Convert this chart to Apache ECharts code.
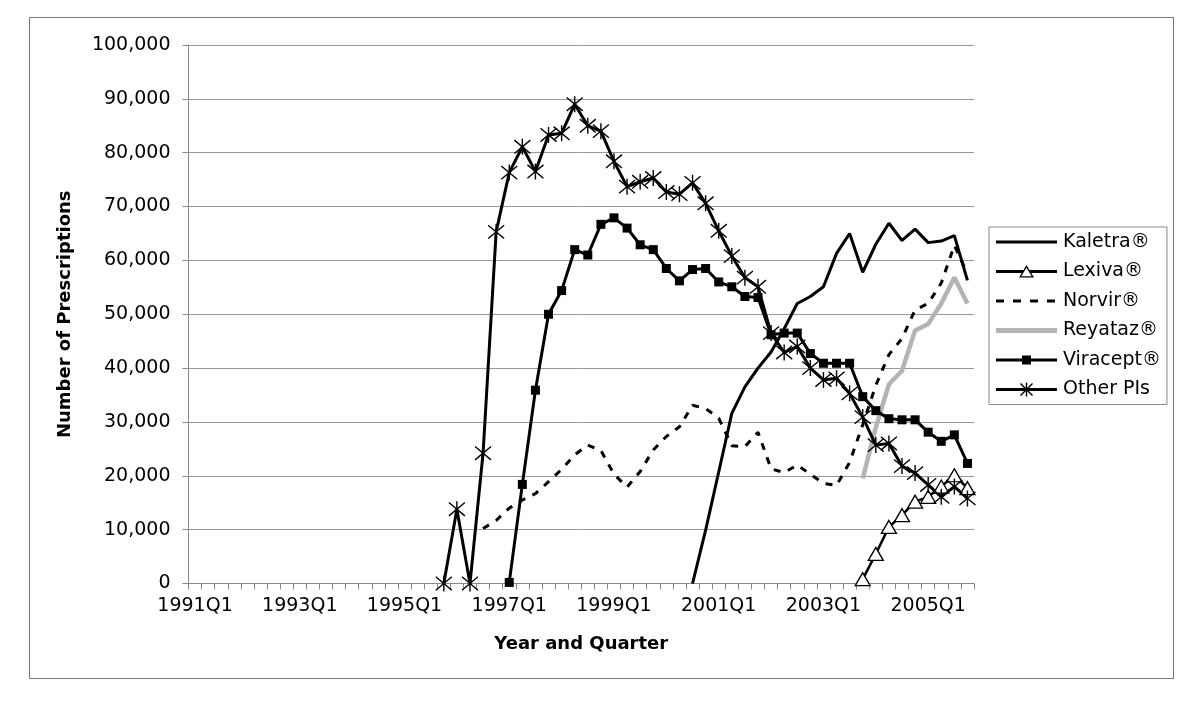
<!DOCTYPE html>
<html>
<head>
<meta charset="utf-8">
<script src="https://cdn.jsdelivr.net/npm/echarts@6/dist/echarts.min.js"></script>
<style>
  html, body { margin: 0; padding: 0; background: #fff; }
  #chart { width: 1200px; height: 702px; }
</style>
</head>
<body>
<div id="chart"></div>
<script>
// ---- Data ----
const quarters = [
  '1991Q1','1991Q2','1991Q3','1991Q4','1992Q1','1992Q2','1992Q3','1992Q4',
  '1993Q1','1993Q2','1993Q3','1993Q4','1994Q1','1994Q2','1994Q3','1994Q4',
  '1995Q1','1995Q2','1995Q3','1995Q4','1996Q1','1996Q2','1996Q3','1996Q4',
  '1997Q1','1997Q2','1997Q3','1997Q4','1998Q1','1998Q2','1998Q3','1998Q4',
  '1999Q1','1999Q2','1999Q3','1999Q4','2000Q1','2000Q2','2000Q3','2000Q4',
  '2001Q1','2001Q2','2001Q3','2001Q4','2002Q1','2002Q2','2002Q3','2002Q4',
  '2003Q1','2003Q2','2003Q3','2003Q4','2004Q1','2004Q2','2004Q3','2004Q4',
  '2005Q1','2005Q2','2005Q3','2005Q4'
];

// values in prescriptions; each series starts at the named quarter
const kaletraStart = '2000Q3';
const kaletra = [0, 9900, 20700, 31600, 36500, 40000, 43000, 47300, 52000, 53300, 55100,
  61300, 65000, 57800, 63000, 66900, 63700, 65800, 63300, 63600, 64600, 56300];

const lexivaStart = '2003Q4';
const lexiva = [800, 5500, 10500, 12700, 15200, 16100, 18000, 20100, 17700];

const norvirStart = '1996Q3';
const norvir = [10200, 11700, 14000, 15500, 16700, 18900, 21200, 23900, 25700, 24700,
  20300, 17900, 20800, 24800, 27300, 29100, 33100, 32500, 30700, 25600, 25400, 28100,
  21300, 20600, 22000, 20300, 18600, 18200, 22500, 29500, 36800, 42500, 45500, 50800,
  52000, 55800, 62800, 57500];

const reyatazStart = '2003Q4';
const reyataz = [19500, 29000, 37000, 39500, 47000, 48200, 52000, 56800, 52000];

const viraceptStart = '1997Q1';
const viracept = [200, 18400, 35900, 50000, 54400, 62000, 61000, 66700, 67900, 66000,
  62900, 62000, 58500, 56200, 58300, 58500, 56000, 55100, 53300, 53100, 46200, 46500,
  46500, 42700, 40900, 40900, 40900, 34700, 32100, 30600, 30400, 30400, 28100, 26400,
  27600, 22300];

const otherStart = '1995Q4';
const otherPIs = [0, 13800, 0, 24200, 65300, 76300, 81100, 76500, 83300, 83600, 89000,
  85000, 84000, 78400, 73700, 74600, 75300, 72700, 72300, 74400, 70600, 65500, 60800,
  56800, 55100, 46500, 42900, 44000, 40000, 37800, 38100, 35300, 30900, 25700, 26000,
  21800, 20500, 18300, 16100, 18000, 15800];

const yTicks = { min: 0, max: 100000, interval: 10000 };

// place a series on the quarter axis starting at its first quarter
function place(start, vals) {
  const out = new Array(quarters.length).fill(null);
  const s = quarters.indexOf(start);
  vals.forEach((v, k) => { out[s + k] = v; });
  return out;
}

const FONT = 'DejaVu Sans';
const chart = echarts.init(document.getElementById('chart'), null, { renderer: 'canvas' });

const asterisk = 'path://M0,0L10,10M10,0L0,10M5,-1L5,11';
// legend icons (61 x 14 box): invisible slivers fix the bounding box
const box = 'M0,0h0.01v14h-0.01z M60.99,0h0.01v14h-0.01z ';
const iconSolid = 'path://' + box + 'M0,5.5h61v3h-61z';
const iconDash = 'path://' + box + 'M0,5.5h8v3h-8z M17,5.5h8v3h-8z M34,5.5h8v3h-8z M51,5.5h8v3h-8z';
const iconGray = 'path://' + box + 'M0,4.5h61v5h-61z';
const iconTri = 'path://' + box + 'M0,5.5h27.5v3h-27.5z M33.5,5.5h27.5v3h-27.5z ' +
  'M30.5,0.5L38,13L23,13Z M30.5,3.2L25.3,11.8L35.7,11.8Z';
const iconSq = 'path://' + box + 'M0,5.5h61v3h-61z M26,2.5h9v9h-9z';
const iconAst = 'path://' + box + 'M0,5.5h61v3h-61z M29.8,0h1.4v14h-1.4z ' +
  'M25,0.5L37,12.5L36,13.5L24,1.5Z M36,0.5L37,1.5L25,13.5L24,12.5Z';
const blackIcon = { color: '#000', borderWidth: 0 };

chart.setOption({
  backgroundColor: '#fff',
  animation: false,
  textStyle: { fontFamily: FONT, color: '#000' },
  graphic: [{
    type: 'rect',
    shape: { x: 29.5, y: 17.5, width: 1144, height: 661 },
    style: { fill: 'none', stroke: '#777', lineWidth: 1 },
    silent: true, z: -10
  }],
  grid: { left: 188.5, right: 226, top: 45, bottom: 118.5, containLabel: false },
  legend: {
    orient: 'vertical',
    left: 989, top: 227,
    padding: [5, 6, 5, 7],
    borderColor: '#888', borderWidth: 1,
    itemWidth: 61, itemHeight: 14, itemGap: 9.5,
    textStyle: { fontFamily: FONT, fontSize: 19, color: '#000', lineHeight: 20, padding: [0, 0, 0, 1] },
    data: [
      { name: 'Kaletra®', icon: iconSolid, itemStyle: blackIcon },
      { name: 'Lexiva®', icon: iconTri, itemStyle: blackIcon },
      { name: 'Norvir®', icon: iconDash, itemStyle: blackIcon },
      { name: 'Reyataz®', icon: iconGray, itemStyle: { color: '#b4b4b4', borderWidth: 0 } },
      { name: 'Viracept®', icon: iconSq, itemStyle: blackIcon },
      { name: 'Other PIs', icon: iconAst, itemStyle: blackIcon }
    ]
  },
  xAxis: {
    type: 'category',
    data: quarters,
    boundaryGap: true,
    name: 'Year and Quarter',
    nameLocation: 'middle',
    nameGap: 52,
    nameTextStyle: { fontFamily: FONT, fontSize: 18, fontWeight: 'bold', color: '#000' },
    axisLine: { lineStyle: { color: '#888', width: 1 } },
    axisTick: { show: true, interval: 0, length: 6, lineStyle: { color: '#888' } },
    axisLabel: { interval: 7, fontFamily: FONT, fontSize: 19, color: '#000', margin: 13 },
    splitLine: { show: false }
  },
  yAxis: {
    type: 'value',
    min: yTicks.min, max: yTicks.max, interval: yTicks.interval,
    name: 'Number of Prescriptions',
    nameLocation: 'middle',
    nameGap: 114,
    nameTextStyle: { fontFamily: FONT, fontSize: 18, fontWeight: 'bold', color: '#000' },
    axisLine: { show: true, lineStyle: { color: '#888', width: 1 } },
    axisTick: { show: true, length: 6, lineStyle: { color: '#888' } },
    axisLabel: {
      fontFamily: FONT, fontSize: 19, color: '#000', margin: 18,
      formatter: v => v.toLocaleString('en-US')
    },
    splitLine: { lineStyle: { color: '#999', width: 1 } }
  },
  series: [
    {
      name: 'Kaletra®', type: 'line', data: place(kaletraStart, kaletra),
      symbol: 'none', color: '#000',
      lineStyle: { color: '#000', width: 3 }
    },
    {
      name: 'Lexiva®', type: 'line', data: place(lexivaStart, lexiva),
      symbol: 'triangle', symbolSize: [15, 13], showAllSymbol: true, color: '#000',
      lineStyle: { color: '#000', width: 2.5 },
      itemStyle: { color: '#fff', borderColor: '#000', borderWidth: 1.3 }
    },
    {
      name: 'Norvir®', type: 'line', data: place(norvirStart, norvir),
      symbol: 'none', color: '#000',
      lineStyle: { color: '#000', width: 3, type: [7, 8] }
    },
    {
      name: 'Reyataz®', type: 'line', data: place(reyatazStart, reyataz),
      symbol: 'none', color: '#b4b4b4',
      lineStyle: { color: '#b4b4b4', width: 4.5 }
    },
    {
      name: 'Viracept®', type: 'line', data: place(viraceptStart, viracept),
      symbol: 'rect', symbolSize: 9, showAllSymbol: true, color: '#000',
      lineStyle: { color: '#000', width: 3 },
      itemStyle: { color: '#000' }
    },
    {
      name: 'Other PIs', type: 'line', data: place(otherStart, otherPIs),
      symbol: asterisk, symbolSize: 16, showAllSymbol: true, color: '#000',
      lineStyle: { color: '#000', width: 3 },
      itemStyle: { color: '#000', borderColor: '#000', borderWidth: 1.4 }
    }
  ]
});
</script>
</body>
</html>
